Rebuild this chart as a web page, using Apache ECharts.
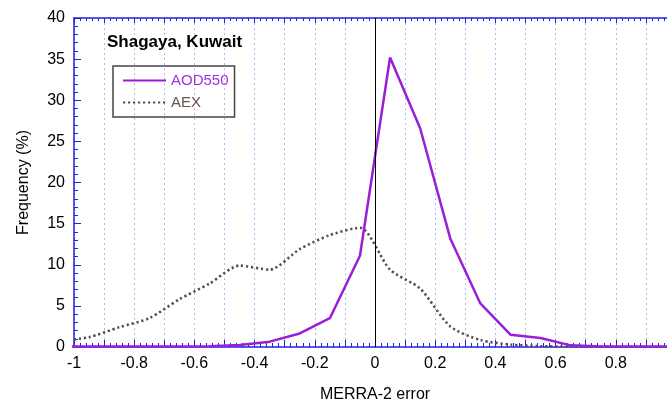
<!DOCTYPE html>
<html>
<head>
<meta charset="utf-8">
<script src="https://cdn.jsdelivr.net/npm/echarts@6/dist/echarts.min.js"></script>
<style>
    html, body { margin: 0; padding: 0; background: #fff; }
    #chart { width: 667px; height: 402px; }
</style>
</head>
<body>
<div id="chart"></div>
<script>
// bin centres of the error histogram (first/last fall outside the axis and get clipped)
var binCenters = [-1.05, -0.95, -0.85, -0.75, -0.65, -0.55, -0.45, -0.35, -0.25, -0.15, -0.05,
                  0.05, 0.15, 0.25, 0.35, 0.45, 0.55, 0.65, 0.75, 0.85, 0.95, 1.05];
var aod550 = [0.05, 0.05, 0.05, 0.05, 0.05, 0.1, 0.25, 0.65, 1.65, 3.5, 11.1,
              35.2, 26.6, 13.2, 5.3, 1.5, 1.1, 0.2, 0.05, 0.05, 0.05, 0.05];
var aex = [0.7, 1.2, 2.4, 3.5, 5.8, 7.7, 9.9, 9.4, 11.9, 13.6, 14.5,
           9.4, 7.1, 2.5, 0.85, 0.3, 0.1, 0.05, 0.02, 0, 0, 0];

var axisBlue = '#2020e6';
var font = 'Liberation Sans, Helvetica, Arial, sans-serif';

function pairs(ys) {
    return binCenters.map(function (x, i) { return [x, ys[i]]; });
}

var myChart = echarts.init(document.getElementById('chart'));

var option = {
    animation: false,
    backgroundColor: '#fff',
    textStyle: { fontFamily: font },
    title: {
        text: 'Shagaya, Kuwait',
        left: 107,
        top: 34,
        padding: 0,
        textStyle: { fontSize: 17, fontWeight: 'bold', color: '#000', fontFamily: font }
    },
    legend: {
        left: 113,
        top: 66,
        orient: 'vertical',
        padding: [7, 6, 7, 9],
        itemWidth: 43,
        itemHeight: 14,
        itemGap: 7,
        borderColor: '#444',
        borderWidth: 1.5,
        itemStyle: { opacity: 0 },
        textStyle: { fontSize: 15, fontFamily: font },
        data: [
            { name: 'AOD550', textStyle: { color: '#a030e0' } },
            { name: 'AEX', textStyle: { color: '#6b524c' } }
        ]
    },
    grid: {
        left: 74,
        top: 18,
        width: 602,
        bottom: 55,
        outerBoundsMode: 'none'
    },
    xAxis: [{
        type: 'value',
        min: -1,
        max: 1,
        interval: 0.1,
        name: 'MERRA-2 error',
        nameLocation: 'middle',
        nameGap: 40,
        nameTextStyle: { fontSize: 16, color: '#000', fontFamily: font },
        axisLine: { onZero: false, lineStyle: { color: axisBlue, width: 1.5 } },
        axisTick: { inside: true, length: 7, lineStyle: { color: axisBlue } },
        minorTick: { show: true, splitNumber: 5, length: 4, lineStyle: { color: axisBlue } },
        axisLabel: {
            fontSize: 16,
            color: '#000',
            margin: 9,
            fontFamily: font,
            formatter: function (v) {
                var k = Math.round(v * 10);
                if (Math.abs(k) % 2 !== 0 || v > 0.95) return '';
                return String(k / 10);
            }
        },
        splitLine: {
            show: true,
            lineStyle: { color: '#b4b4f4', type: [2, 3], width: 1 }
        }
    }, {
        type: 'value',
        position: 'top',
        min: -1,
        max: 1,
        interval: 0.1,
        axisLine: { onZero: false, lineStyle: { color: axisBlue, width: 1.5 } },
        axisTick: { inside: true, length: 5, lineStyle: { color: axisBlue } },
        minorTick: { show: true, splitNumber: 5, length: 3, lineStyle: { color: axisBlue } },
        axisLabel: { show: false },
        splitLine: { show: false }
    }],
    yAxis: {
        type: 'value',
        min: 0,
        max: 40,
        interval: 5,
        name: 'Frequency (%)',
        nameLocation: 'middle',
        nameGap: 42,
        nameTextStyle: { fontSize: 16, color: '#000', fontFamily: font },
        axisLine: { show: true, onZero: false, lineStyle: { color: axisBlue, width: 1.5 } },
        axisTick: { inside: true, length: 7, lineStyle: { color: axisBlue } },
        minorTick: { show: true, splitNumber: 5, length: 4, lineStyle: { color: axisBlue } },
        axisLabel: { fontSize: 16, color: '#000', margin: 9, fontFamily: font },
        splitLine: { show: false }
    },
    series: [{
        name: 'AOD550',
        type: 'line',
        symbol: 'none',
        clip: true,
        z: 3,
        lineStyle: { color: '#9a1ed8', width: 2.5 },
        itemStyle: { color: '#9a1ed8' },
        data: pairs(aod550),
        markLine: {
            silent: true,
            symbol: ['none', 'none'],
            label: { show: false },
            lineStyle: { color: '#000', width: 1, type: 'solid' },
            emphasis: { disabled: true },
            data: [{ xAxis: 0 }]
        }
    }, {
        name: 'AEX',
        type: 'line',
        symbol: 'none',
        clip: true,
        smooth: 0.25,
        z: 2,
        lineStyle: { color: '#5e4a48', width: 2.6, type: [2.2, 2.8] },
        itemStyle: { color: '#5e4a48' },
        data: pairs(aex)
    }]
};

myChart.setOption(option);

window.addEventListener("resize", function () {
    myChart.resize();
});
</script>
</body>
</html>
